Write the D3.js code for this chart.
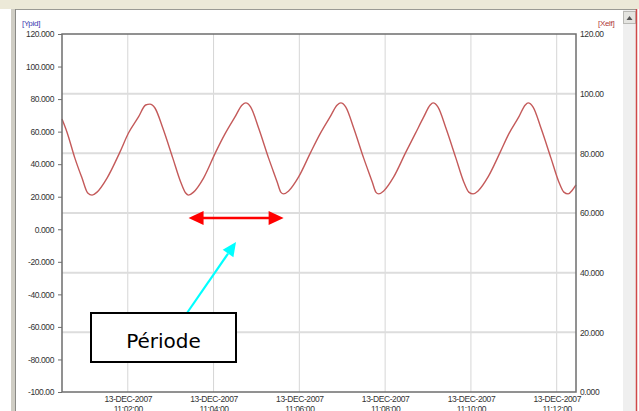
<!DOCTYPE html>
<html>
<head>
<meta charset="utf-8">
<script src="https://cdn.jsdelivr.net/npm/d3@7"></script>
<style>
  body { margin: 0; background: #fff; }
  svg { display: block; }
</style>
</head>
<body>
<div id="chart"></div>
<script>
// trend data (right axis, [Xelf])
const times = [
  '11:00:28', '11:00:35', '11:00:46', '11:00:56', '11:01:04', '11:01:10', '11:01:17', '11:01:31', '11:01:49',
  '11:02:01', '11:02:15', '11:02:25', '11:02:31', '11:02:38', '11:02:49', '11:03:03', '11:03:14', '11:03:21',
  '11:03:25', '11:03:32', '11:03:46', '11:04:03', '11:04:16', '11:04:30', '11:04:40', '11:04:45', '11:04:52',
  '11:05:03', '11:05:17', '11:05:29', '11:05:34', '11:05:38', '11:05:45', '11:05:59', '11:06:16', '11:06:29',
  '11:06:43', '11:06:53', '11:06:58', '11:07:05', '11:07:16', '11:07:30', '11:07:42', '11:07:47', '11:07:51',
  '11:07:58', '11:08:12', '11:08:29', '11:08:42', '11:08:54', '11:09:03', '11:09:07', '11:09:14', '11:09:25',
  '11:09:39', '11:09:50', '11:09:57', '11:10:03', '11:10:10', '11:10:24', '11:10:41', '11:10:53', '11:11:07',
  '11:11:16', '11:11:20', '11:11:27', '11:11:38', '11:11:52', '11:12:03', '11:12:10', '11:12:16', '11:12:22',
  '11:12:27'
]
const values = [
  91.5, 87.1, 78.4, 71.7, 66.7, 66.0, 67.0, 71.7, 80.4,
  86.8, 92.2, 96.2, 96.5, 95.2, 88.5, 78.4, 70.4, 66.7,
  66.0, 67.0, 71.7, 80.4, 86.5, 92.2, 96.2, 96.9, 95.5,
  88.5, 78.4, 70.4, 67.0, 66.4, 67.4, 72.1, 80.4, 86.5,
  92.2, 96.2, 96.9, 95.5, 88.5, 78.4, 70.4, 67.0, 66.4,
  67.4, 72.1, 80.4, 86.5, 92.2, 96.2, 96.9, 95.5, 88.5,
  78.4, 70.4, 67.0, 66.4, 67.4, 72.1, 80.4, 86.5, 92.2,
  96.2, 96.9, 95.5, 88.5, 78.4, 70.4, 67.0, 66.4, 67.7,
  69.4
]
const day = '2007-12-13'
const dayLabel = '13-DEC-2007'
const timeDomain = ['11:00:28', '11:12:27']

const leftTicks = [120, 100, 80, 60, 40, 20, 0, -20, -40, -60, -80, -100]
const leftTickLabels = ['120.000', '100.000', '80.000', '60.000', '40.000', '20.000', '0.000',
  '-20.000', '-40.000', '-60.000', '-80.000', '-100.00']
const rightTicks = [120, 100, 80, 60, 40, 20, 0]
const rightTickLabels = ['120.00', '100.00', '80.000', '60.000', '40.000', '20.000', '0.000']

// annotation: one period between two troughs
const periodFrom = '11:03:25'
const periodTo = '11:05:38'
const periodLevel = 58.3
const calloutText = 'Période'

const W = 639
const H = 411
const plot = { left: 62, right: 576, top: 34, bottom: 392 }
const colors = {
  frame: '#ECE9D8',
  axis: '#6E6E6E',
  grid: '#DDDDDD',
  tick: '#333333',
  line: '#C45A5A',
  leftLabel: '#3A3AB0',
  rightLabel: '#B03A3A'
}

const parse = d3.timeParse('%Y-%m-%d %H:%M:%S')
const toDate = (t) => parse(`${day} ${t}`)
const data = times.map((t, i) => ({ t: toDate(t), v: values[i] }))

const svg = d3.select('#chart').append('svg').attr('width', W).attr('height', H)

// window chrome
svg.append('rect').attr('x', 0).attr('y', 0).attr('width', W).attr('height', 9).attr('fill', colors.frame)
svg.append('line').attr('x1', 11).attr('x2', 636).attr('y1', 9.5).attr('y2', 9.5).attr('stroke', '#9A9A94')
svg.append('rect').attr('x', 11).attr('y', 9).attr('width', 4).attr('height', H).attr('fill', '#CFCDC4')
svg.append('line').attr('x1', 15.5).attr('x2', 15.5).attr('y1', 9).attr('y2', H).attr('stroke', '#8A8A86')
svg.append('rect').attr('x', 623).attr('y', 10).attr('width', 13).attr('height', H).attr('fill', '#EFEFEF')
svg.append('rect').attr('x', 623.5).attr('y', 11.5).attr('width', 12).attr('height', 12)
  .attr('fill', '#E4E4E0').attr('stroke', '#B8B8B4')
svg.append('path').attr('d', 'M626.5,20 L629.5,16 L632.5,20 Z').attr('fill', '#555')
svg.append('line').attr('x1', 636.5).attr('x2', 636.5).attr('y1', 9).attr('y2', H)
  .attr('stroke', '#D04848').attr('stroke-width', 1.5)

const x = d3.scaleTime().domain(timeDomain.map(toDate)).range([plot.left, plot.right])
const yLeft = d3.scaleLinear().domain([-100, 120]).range([plot.bottom, plot.top])
const yRight = d3.scaleLinear().domain([0, 120]).range([plot.bottom, plot.top])

const xTicks = x.ticks(d3.timeMinute.every(2))

// grid
svg.append('g')
  .selectAll('line')
  .data(xTicks)
  .join('line')
  .attr('x1', (d) => x(d)).attr('x2', (d) => x(d))
  .attr('y1', plot.top).attr('y2', plot.bottom)
  .attr('stroke', '#D6D6D6')
svg.append('g')
  .selectAll('line')
  .data(rightTicks.filter((d) => d > 0 && d < 120))
  .join('line')
  .attr('x1', plot.left).attr('x2', plot.right)
  .attr('y1', (d) => yRight(d)).attr('y2', (d) => yRight(d))
  .attr('stroke', colors.grid).attr('stroke-width', 2)

// series
svg.append('path')
  .datum(data)
  .attr('fill', 'none')
  .attr('stroke', colors.line)
  .attr('stroke-width', 1.4)
  .attr('d', d3.line().x((d) => x(d.t)).y((d) => yRight(d.v)).curve(d3.curveMonotoneX))

// plot border
svg.append('rect')
  .attr('x', plot.left).attr('y', plot.top)
  .attr('width', plot.right - plot.left).attr('height', plot.bottom - plot.top)
  .attr('fill', 'none').attr('stroke', colors.axis).attr('stroke-width', 1.5)

const styleTicks = (g) => {
  g.select('.domain').remove()
  g.selectAll('.tick text')
    .style('font-family', 'Liberation Sans, Arial, sans-serif')
    .style('font-size', '8.5px')
    .style('letter-spacing', '-0.4px')
    .attr('fill', colors.tick)
}

svg.append('g')
  .attr('transform', `translate(${plot.left},0)`)
  .call(d3.axisLeft(yLeft).tickValues(leftTicks).tickFormat((d, i) => leftTickLabels[i]).tickSize(4).tickPadding(4))
  .call(styleTicks)
  .call((g) => g.selectAll('.tick line').attr('stroke', colors.axis))

svg.append('g')
  .attr('transform', `translate(${plot.right},0)`)
  .call(d3.axisRight(yRight).tickValues(rightTicks).tickFormat((d, i) => rightTickLabels[i]).tickSize(0).tickPadding(4))
  .call(styleTicks)

const xAxis = svg.append('g')
  .attr('transform', `translate(0,${plot.bottom})`)
  .call(d3.axisBottom(x).tickValues(xTicks).tickFormat(() => '').tickSize(0))
  .call(styleTicks)
xAxis.selectAll('.tick text').remove()
xAxis.selectAll('.tick')
  .append('text')
  .attr('text-anchor', 'middle')
  .style('font-family', 'Liberation Sans, Arial, sans-serif')
  .style('font-size', '8.5px')
  .style('letter-spacing', '-0.4px')
  .attr('fill', colors.tick)
  .call((t) => t.append('tspan').attr('x', 0).attr('y', 10).text(dayLabel))
  .call((t) => t.append('tspan').attr('x', 0).attr('y', 19.5).text((d) => d3.timeFormat('%H:%M:%S')(d)))

// axis unit labels
svg.append('text').attr('x', 22).attr('y', 26).text('[Ypid]')
  .style('font-family', 'Liberation Sans, Arial, sans-serif').style('font-size', '8px')
  .style('letter-spacing', '-0.3px').attr('fill', colors.leftLabel)
svg.append('text').attr('x', 598).attr('y', 26).text('[Xelf]')
  .style('font-family', 'Liberation Sans, Arial, sans-serif').style('font-size', '8px')
  .style('letter-spacing', '-0.3px').attr('fill', colors.rightLabel)

// period arrow
const ax1 = x(toDate(periodFrom))
const ax2 = x(toDate(periodTo))
const ay = yRight(periodLevel)
svg.append('line').attr('x1', ax1 + 10).attr('x2', ax2 - 10).attr('y1', ay).attr('y2', ay)
  .attr('stroke', '#FF0000').attr('stroke-width', 2.5)
svg.append('path').attr('d', `M${ax1},${ay} L${ax1 + 15},${ay - 7} L${ax1 + 15},${ay + 7} Z`).attr('fill', '#FF0000')
svg.append('path').attr('d', `M${ax2},${ay} L${ax2 - 15},${ay - 7} L${ax2 - 15},${ay + 7} Z`).attr('fill', '#FF0000')

// callout box and cyan pointer
const box = { x: 91, y: 313, w: 145, h: 49 }
const tip = [236, 242]
const tail = [187, box.y]
const ang = Math.atan2(tip[1] - tail[1], tip[0] - tail[0])
const hl = 14
const hw = 6.5
const base = [tip[0] - hl * Math.cos(ang), tip[1] - hl * Math.sin(ang)]
svg.append('line').attr('x1', tail[0]).attr('y1', tail[1]).attr('x2', base[0]).attr('y2', base[1])
  .attr('stroke', '#00FFFF').attr('stroke-width', 2.2)
svg.append('path')
  .attr('d', `M${tip[0]},${tip[1]} L${base[0] + hw * Math.sin(ang)},${base[1] - hw * Math.cos(ang)} L${base[0] - hw * Math.sin(ang)},${base[1] + hw * Math.cos(ang)} Z`)
  .attr('fill', '#00FFFF')

svg.append('rect').attr('x', box.x).attr('y', box.y).attr('width', box.w).attr('height', box.h)
  .attr('fill', '#fff').attr('stroke', '#000').attr('stroke-width', 2)
svg.append('text').attr('x', box.x + box.w / 2).attr('y', 348).attr('text-anchor', 'middle')
  .text(calloutText)
  .style('font-family', 'DejaVu Sans, sans-serif').style('font-size', '20px').attr('fill', '#000')
</script>
</body>
</html>
